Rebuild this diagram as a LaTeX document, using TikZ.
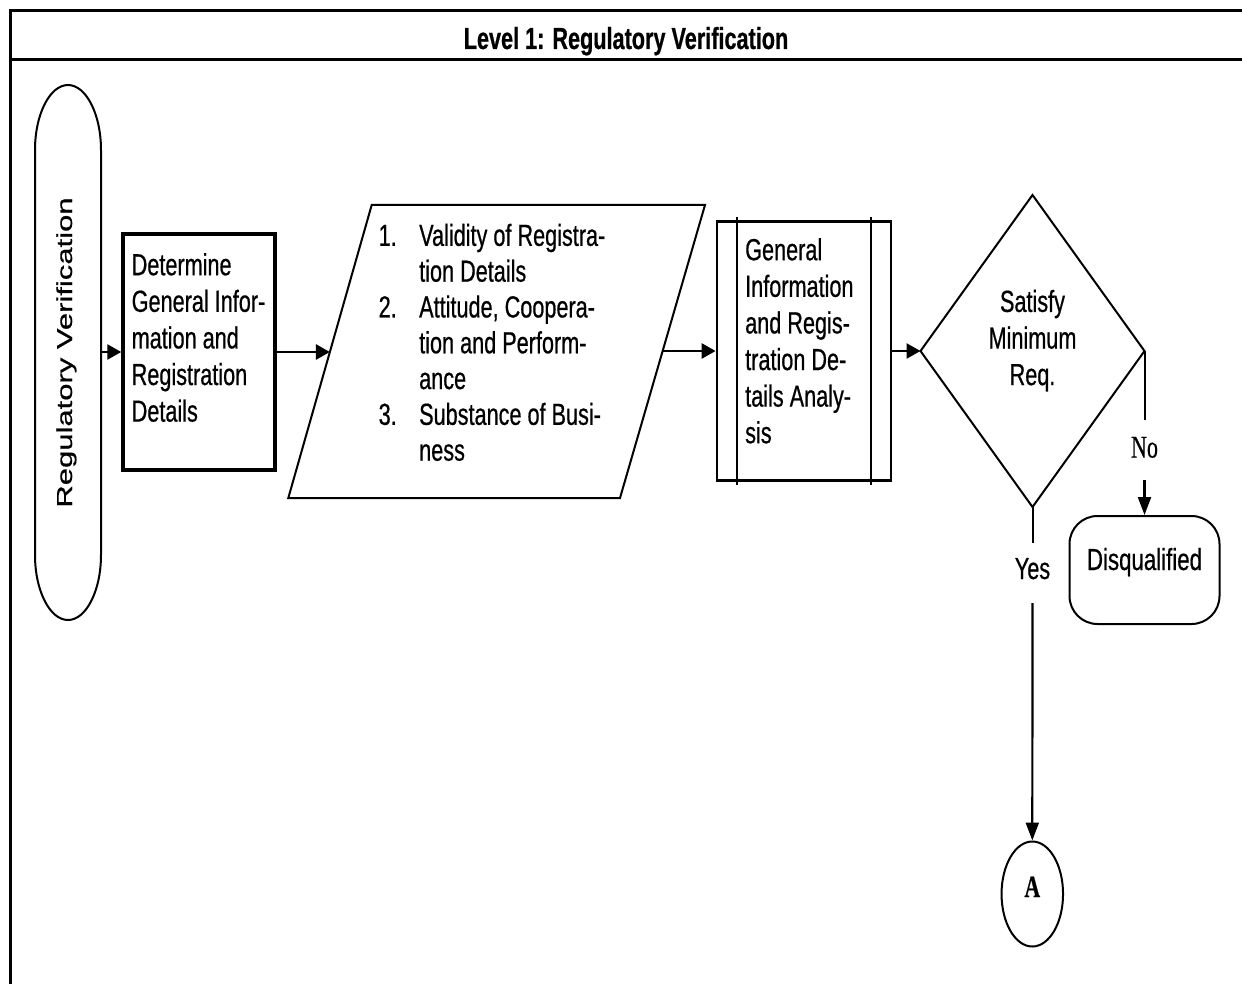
\documentclass[tikz,border=0pt]{standalone}
\usepackage{fontspec}
\setmainfont{Liberation Sans}[FakeStretch=0.71,FakeBold=0.6]
\newfontfamily\widesans{Liberation Sans}[FakeStretch=0.73,FakeBold=0.6]
\newfontfamily\plainsans{Liberation Sans}[FakeBold=0.5]
\newfontfamily\narrowserif{Liberation Serif}[FakeStretch=0.7,FakeBold=0.5]
\usepackage{graphicx}
\usetikzlibrary{shapes.geometric,arrows.meta}
\newcommand\bodysize{\fontsize{30.5}{36.6}\selectfont}
\newcommand\listsize{\fontsize{30.5}{35.8}\selectfont}

\begin{document}
\begin{tikzpicture}[x=1pt,y=-1pt,
  harrow/.style={line width=2.6pt,-{Triangle[length=14pt,width=15pt]}},
  varrow/.style={line width=2.2pt,-{Triangle[length=18pt,width=13pt]}},
  plain/.style={line width=2pt},
  txt/.style={inner sep=0pt,font=\bodysize,align=left,anchor=north west},
  label/.style={inner sep=0pt,minimum height=60pt},
]
\useasboundingbox (0,0) rectangle (1242,984);

% swimlane frame and heading
\draw[line width=3pt] (10,984) -- (10,11) -- (1242,11);
\draw[line width=3pt] (10,60) -- (1242,60);
\node[anchor=base,inner sep=0pt,font=\bodysize\bfseries] (title) at (626,49)
  {Level 1: Regulatory Verification};

% lane terminator
\node[minimum width=66pt,minimum height=535pt,inner sep=0pt] (term) at (68,352) {};
\draw[line width=2pt] (35,150) -- (35,555)
  .. controls (35,591) and (50,620) .. (68,620)
  .. controls (86,620) and (101,591) .. (101,555) -- (101,150)
  .. controls (101,114) and (86,85) .. (68,85)
  .. controls (50,85) and (35,114) .. (35,150) -- cycle;
\node[rotate=90,anchor=base,inner sep=0pt,font=\plainsans\fontsize{31}{37}\selectfont]
  (termtext) at (72,352.5) {\scalebox{1}[0.7]{Regulatory Verification}};

% process box
\node[draw,line width=3.5pt,minimum width=152pt,minimum height=236pt,inner sep=0pt]
  (det) at (199,352) {};
\node[txt] (dettext) at (131.5,249.4)
  {\strut Determine\\General Infor-\\mation and\\Registration\\Details};

% data (parallelogram)
\draw[line width=2pt] (371.7,205) -- (705,205) -- (620,498) -- (288.3,498) -- cycle;
\coordinate (parin) at (329.9,352);
\coordinate (parout) at (662.6,351);
\node[inner sep=0pt,font=\listsize,align=left,anchor=north west] (listtext) at (378.5,220.6)
  {\strut\makebox[40.5pt][l]{1.}Validity of Registra-\\
   \hspace*{40.5pt}tion Details\\
   \makebox[40.5pt][l]{2.}Attitude, Coopera-\\
   \hspace*{40.5pt}tion and Perform-\\
   \hspace*{40.5pt}ance\\
   \makebox[40.5pt][l]{3.}Substance of Busi-\\
   \hspace*{40.5pt}ness};

% predefined process
\node[draw,line width=2.8pt,minimum width=174pt,minimum height=259pt,inner sep=0pt]
  (gia) at (804,351) {};
\draw[line width=2pt] ([xshift=21pt,yshift=3pt]gia.north west) -- ([xshift=21pt,yshift=-3pt]gia.south west);
\draw[line width=2pt] ([xshift=-21pt,yshift=3pt]gia.north east) -- ([xshift=-21pt,yshift=-3pt]gia.south east);
\node[txt] (giatext) at (745,234.4)
  {\strut General\\Information\\and Regis-\\tration De-\\tails Analy-\\sis};

% decision
\node[diamond,draw,line width=2pt,minimum width=224pt,minimum height=312pt,inner sep=0pt,outer sep=0pt]
  (dia) at (1032.5,351) {};
\node[inner sep=0pt,font=\bodysize,align=center,anchor=north] (diatext) at (1032.5,286.1)
  {\strut Satisfy\\Minimum\\Req.};

% branch labels
\node[label,font=\narrowserif\fontsize{31.5}{36}\selectfont,text height=21pt,text depth=6pt]
  (nolab) at (1144.5,450) {No};
\node[label,font=\bodysize,text height=22pt,text depth=10pt]
  (yeslab) at (1032.5,573) {Yes};

% end terminator
\node[draw,line width=2pt,rounded corners=28pt,minimum width=150pt,minimum height=108pt,inner sep=0pt,
  font=\widesans\fontsize{30.5}{36.6}\selectfont,text height=20pt,text depth=20pt]
  (disq) at (1144.5,570) {Disqualified};

% off-page connector
\node[ellipse,draw,line width=2pt,minimum width=61.5pt,minimum height=105pt,inner sep=0pt,
  font=\narrowserif\bfseries\fontsize{31}{36}\selectfont,text height=20pt,text depth=14pt]
  (conA) at (1032.3,894) {A};

% flow
\draw[harrow] (term.east) -- (det.west);
\draw[harrow] (det.east) -- (parin);
\draw[harrow] (parout) -- (gia.west);
\draw[harrow] (gia.east) -- (dia.west);
\draw[plain] (dia.east) -- (nolab.north);
\draw[varrow] (nolab.south) -- (disq.north);
\draw[plain] (dia.south) -- (yeslab.north);
\draw[varrow] (yeslab.south) -- (conA.north);
\end{tikzpicture}
\end{document}
